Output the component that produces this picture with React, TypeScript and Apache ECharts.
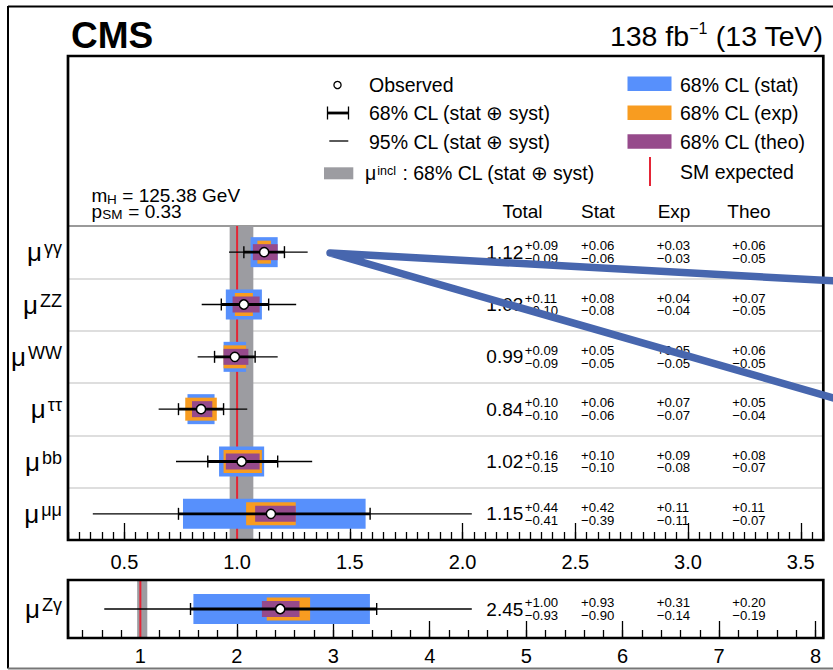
import React, { useEffect, useRef } from 'react';
import * as echarts from 'echarts';

const FONT = "'Liberation Sans', Arial, Helvetica, sans-serif";

// ---------------- data ----------------
const categories = ['γγ', 'ZZ', 'WW', 'ττ', 'bb', 'μμ'];
const bestFit = [1.12, 1.03, 0.99, 0.84, 1.02, 1.15];
const totalUp = [0.09, 0.11, 0.09, 0.1, 0.16, 0.44];
const totalDown = [0.09, 0.1, 0.09, 0.1, 0.15, 0.41];
const statUp = [0.06, 0.08, 0.05, 0.06, 0.1, 0.42];
const statDown = [0.06, 0.08, 0.05, 0.06, 0.1, 0.39];
const expUp = [0.03, 0.04, 0.05, 0.07, 0.09, 0.11];
const expDown = [0.03, 0.04, 0.05, 0.07, 0.08, 0.11];
const theoUp = [0.06, 0.07, 0.06, 0.05, 0.08, 0.11];
const theoDown = [0.05, 0.05, 0.05, 0.04, 0.07, 0.07];
const cl95Low = [0.964, 0.843, 0.825, 0.652, 0.729, 0.36];
const cl95High = [1.313, 1.262, 1.18, 1.045, 1.333, 2.041];

const zgCategories = ['Zγ'];
const zgBestFit = [2.45];
const zgTotalUp = [1.0];
const zgTotalDown = [0.93];
const zgStatUp = [0.93];
const zgStatDown = [0.9];
const zgExpUp = [0.31];
const zgExpDown = [0.14];
const zgTheoUp = [0.2];
const zgTheoDown = [0.19];
const zgCl95Low = [0.626];
const zgCl95High = [4.436];

const inclBand = [0.967, 1.072];
const smValue = [1];
const mainRange = [0.25, 3.6];
const zgRange = [0.25, 8.08];
const tableHeaders = ['Total', 'Stat', 'Exp', 'Theo'];

// ---------------- style ----------------
const BLUE = '#5790fc';
const ORANGE = '#f89c20';
const PURPLE = '#964a8b';
const GRAY = '#9c9ca1';
const RED = '#e42536';

type Rows = {
  best: number[]; tu: number[]; td: number[]; su: number[]; sd: number[];
  eu: number[]; ed: number[]; hu: number[]; hd: number[]; lo95: number[]; hi95: number[];
};

const mainRows: Rows = {
  best: bestFit, tu: totalUp, td: totalDown, su: statUp, sd: statDown,
  eu: expUp, ed: expDown, hu: theoUp, hd: theoDown, lo95: cl95Low, hi95: cl95High,
};
const zgRows: Rows = {
  best: zgBestFit, tu: zgTotalUp, td: zgTotalDown, su: zgStatUp, sd: zgStatDown,
  eu: zgExpUp, ed: zgExpDown, hu: zgTheoUp, hd: zgTheoDown, lo95: zgCl95Low, hi95: zgCl95High,
};

const f2 = (v: number) => v.toFixed(2);
const up = (v: number) => '+' + f2(v);
const dn = (v: number) => '\u2212' + f2(v);

function smallText(x: number, y: number, text: string) {
  return {
    type: 'text', x, y,
    style: { text, fontSize: 13.2, lineHeight: 11, fontFamily: FONT, fill: '#000', align: 'left', verticalAlign: 'middle' },
  };
}

function rowRenderer(rows: Rows) {
  return (params: any, api: any) => {
    const i = params.dataIndex;
    const cat = api.value(1);
    const c = rows.best[i];
    const X = (v: number) => api.coord([v, cat])[0];
    const y = api.coord([c, cat])[1];
    const rect = (lo: number, hi: number, h: number, fill: string) => ({
      type: 'rect',
      shape: { x: X(lo), y: y - h / 2, width: X(hi) - X(lo), height: h },
      style: { fill },
    });
    const capH = 12;
    const xl = X(c - rows.td[i]);
    const xh = X(c + rows.tu[i]);
    return {
      type: 'group',
      children: [
        rect(c - rows.sd[i], c + rows.su[i], 30, BLUE),
        rect(c - rows.ed[i], c + rows.eu[i], 23, ORANGE),
        rect(c - rows.hd[i], c + rows.hu[i], 16, PURPLE),
        { type: 'line', shape: { x1: X(rows.lo95[i]), y1: y, x2: X(rows.hi95[i]), y2: y }, style: { stroke: '#000', lineWidth: 1.4 } },
        { type: 'line', shape: { x1: xl, y1: y, x2: xh, y2: y }, style: { stroke: '#000', lineWidth: 2.8 } },
        { type: 'line', shape: { x1: xl, y1: y - capH / 2, x2: xl, y2: y + capH / 2 }, style: { stroke: '#000', lineWidth: 1.4 } },
        { type: 'line', shape: { x1: xh, y1: y - capH / 2, x2: xh, y2: y + capH / 2 }, style: { stroke: '#000', lineWidth: 1.4 } },
        { type: 'circle', shape: { cx: X(c), cy: y, r: 4.6 }, style: { fill: '#fff', stroke: '#000', lineWidth: 1.5 } },
        // table
        {
          type: 'text', x: 523.3, y,
          style: { text: f2(c), fontSize: 19, lineHeight: 16, fontFamily: FONT, fill: '#000', align: 'right', verticalAlign: 'middle' },
        },
        smallText(524.8, y - 6.2, up(rows.tu[i])),
        smallText(524.8, y + 6.4, dn(rows.td[i])),
        smallText(581, y - 6.2, up(rows.su[i])),
        smallText(581, y + 6.4, dn(rows.sd[i])),
        smallText(656.7, y - 6.2, up(rows.eu[i])),
        smallText(656.7, y + 6.4, dn(rows.ed[i])),
        smallText(732.3, y - 6.2, up(rows.hu[i])),
        smallText(732.3, y + 6.4, dn(rows.hd[i])),
      ],
    };
  };
}

function bandRenderer(params: any, api: any) {
  const cs = params.coordSys;
  const x1 = api.coord([api.value(0), 0])[0];
  const x2 = api.coord([api.value(1), 0])[0];
  return { type: 'rect', shape: { x: x1, y: cs.y, width: x2 - x1, height: cs.height }, style: { fill: GRAY } };
}

function smRenderer(params: any, api: any) {
  const cs = params.coordSys;
  const x = api.coord([api.value(0), 0])[0];
  return { type: 'line', shape: { x1: x, y1: cs.y, x2: x, y2: cs.y + cs.height }, style: { stroke: RED, lineWidth: 2 } };
}

const yLabel = {
  margin: 6,
  formatter: (v: string) => `{mu|μ}{sup|${v}}`,
  rich: {
    mu: { fontSize: 26, fontFamily: FONT, color: '#000', lineHeight: 26 },
    sup: { fontSize: 18, fontFamily: FONT, color: '#000', lineHeight: 18, verticalAlign: 'top', padding: [0, 0, 0, 2] },
  },
};

function xAxes(gridIndex: number, range: number[], major: number, minor: number, fmt: (v: number) => string, margin: number) {
  return [
    {
      type: 'value', gridIndex, min: range[0], max: range[1], minInterval: major, maxInterval: major,
      position: 'bottom',
      axisLine: { show: false, onZero: false },
      axisTick: { show: true, inside: true, length: 17, lineStyle: { color: '#000', width: 1.3 } },
      axisLabel: { show: true, formatter: fmt, showMinLabel: false, showMaxLabel: false, fontSize: 20, fontFamily: FONT, color: '#000', margin },
      splitLine: { show: false },
    },
    {
      type: 'value', gridIndex, min: range[0], max: range[1], minInterval: minor, maxInterval: minor,
      position: 'bottom',
      axisLine: { show: false, onZero: false },
      axisTick: { show: true, inside: true, length: 8, lineStyle: { color: '#000', width: 1.3 } },
      axisLabel: { show: false },
      splitLine: { show: false },
    },
  ];
}

const legendText = (x: number, y: number, text: string, extra: any = {}) => ({
  type: 'text', x, y, z: 50,
  style: { text, fontSize: 19.5, lineHeight: 18, fontFamily: FONT, fill: '#000', align: 'left', verticalAlign: 'middle', ...extra },
});

const option: any = {
  animation: false,
  backgroundColor: '#fff',
  grid: [
    { left: 68, right: 9.7, top: 226, bottom: 130 },
    { left: 68, right: 9.7, top: 580, bottom: 32 },
  ],
  xAxis: [
    ...xAxes(0, mainRange, 0.5, 0.05, (v: number) => v.toFixed(1), 12),
    ...xAxes(1, zgRange, 1, 0.2, (v: number) => String(Math.round(v)), 8),
  ],
  yAxis: [
    {
      type: 'category', gridIndex: 0, data: categories, inverse: true,
      axisLine: { show: false }, axisTick: { show: false },
      axisLabel: yLabel,
      splitLine: { show: true, lineStyle: { color: ['#9a9a9a', '#dedede', '#dedede', '#dedede', '#dedede', '#dedede', '#9a9a9a'], width: 2 } },
    },
    {
      type: 'category', gridIndex: 1, data: zgCategories,
      axisLine: { show: false }, axisTick: { show: false },
      axisLabel: yLabel,
      splitLine: { show: false },
    },
  ],
  series: [
    { type: 'custom', xAxisIndex: 0, yAxisIndex: 0, z: 1, renderItem: bandRenderer, data: [inclBand], silent: true },
    { type: 'custom', xAxisIndex: 0, yAxisIndex: 0, z: 2, renderItem: smRenderer, data: smValue.map((v) => [v]), silent: true },
    {
      type: 'custom', xAxisIndex: 0, yAxisIndex: 0, z: 3, renderItem: rowRenderer(mainRows),
      encode: { x: 0, y: 1 }, data: bestFit.map((v, i) => [v, i]),
    },
    { type: 'custom', xAxisIndex: 2, yAxisIndex: 1, z: 1, renderItem: bandRenderer, data: [inclBand], silent: true },
    { type: 'custom', xAxisIndex: 2, yAxisIndex: 1, z: 2, renderItem: smRenderer, data: smValue.map((v) => [v]), silent: true },
    {
      type: 'custom', xAxisIndex: 2, yAxisIndex: 1, z: 3, renderItem: rowRenderer(zgRows),
      encode: { x: 0, y: 1 }, data: zgBestFit.map((v, i) => [v, i]),
    },
  ],
  graphic: [
    // outer border
    { type: 'line', z: 100, shape: { x1: 8, y1: 6.5, x2: 840, y2: 6.5 }, style: { stroke: '#000', lineWidth: 2 } },
    { type: 'line', z: 100, shape: { x1: 8, y1: 6, x2: 8, y2: 668.5 }, style: { stroke: '#000', lineWidth: 2 } },
    { type: 'line', z: 100, shape: { x1: 8, y1: 668.5, x2: 840, y2: 668.5 }, style: { stroke: '#777', lineWidth: 2 } },
    // frames
    { type: 'rect', z: 100, shape: { x: 68, y: 56, width: 755.3, height: 484 }, style: { fill: null, stroke: '#000', lineWidth: 2.7 } },
    { type: 'rect', z: 100, shape: { x: 68, y: 580, width: 755.3, height: 58 }, style: { fill: null, stroke: '#000', lineWidth: 2.7 } },
    // titles
    {
      type: 'text', x: 71, y: 35, z: 50,
      style: { text: 'CMS', fontSize: 37, fontWeight: 'bold', fontFamily: FONT, fill: '#000', align: 'left', verticalAlign: 'middle' },
    },
    {
      type: 'text', x: 823, y: 35.5, z: 50,
      style: {
        text: '{a|138 fb}{s|\u22121}{a| (13 TeV)}', align: 'right', verticalAlign: 'middle',
        rich: {
          a: { fontSize: 28.5, fontFamily: FONT, fill: '#000', lineHeight: 30 },
          s: { fontSize: 16, fontFamily: FONT, fill: '#000', lineHeight: 14, verticalAlign: 'top' },
        },
      },
    },
    // left legend
    { type: 'circle', z: 50, shape: { cx: 337.5, cy: 85, r: 3.6 }, style: { fill: '#fff', stroke: '#000', lineWidth: 1.3 } },
    legendText(369, 84.5, 'Observed'),
    { type: 'line', z: 50, shape: { x1: 327.5, y1: 113, x2: 348.5, y2: 113 }, style: { stroke: '#000', lineWidth: 2.8 } },
    { type: 'line', z: 50, shape: { x1: 327.5, y1: 106.5, x2: 327.5, y2: 119.5 }, style: { stroke: '#000', lineWidth: 1.3 } },
    { type: 'line', z: 50, shape: { x1: 348.5, y1: 106.5, x2: 348.5, y2: 119.5 }, style: { stroke: '#000', lineWidth: 1.3 } },
    legendText(369, 113, '68% CL (stat \u2295 syst)'),
    { type: 'line', z: 50, shape: { x1: 329.3, y1: 141, x2: 348.3, y2: 141 }, style: { stroke: '#000', lineWidth: 1.3 } },
    legendText(369, 142, '95% CL (stat \u2295 syst)'),
    { type: 'rect', z: 50, shape: { x: 324, y: 167.3, width: 29.3, height: 12 }, style: { fill: GRAY } },
    legendText(365, 173, '', {
      text: '{a|μ}{s|incl}{a| : 68% CL (stat \u2295 syst)}',
      rich: {
        a: { fontSize: 19.5, fontFamily: FONT, fill: '#000', lineHeight: 18 },
        s: { fontSize: 12.5, fontFamily: FONT, fill: '#000', lineHeight: 10, verticalAlign: 'top', padding: [0, 1, 0, 1] },
      },
    }),
    // right legend
    { type: 'rect', z: 50, shape: { x: 627.5, y: 76.5, width: 44, height: 14.5 }, style: { fill: BLUE } },
    legendText(680, 84.5, '68% CL (stat)'),
    { type: 'rect', z: 50, shape: { x: 627.5, y: 105.5, width: 44, height: 14.5 }, style: { fill: ORANGE } },
    legendText(680, 113, '68% CL (exp)'),
    { type: 'rect', z: 50, shape: { x: 627.5, y: 134.3, width: 44, height: 14.5 }, style: { fill: PURPLE } },
    legendText(680, 142, '68% CL (theo)'),
    { type: 'line', z: 50, shape: { x1: 650, y1: 157, x2: 650, y2: 186 }, style: { stroke: RED, lineWidth: 2 } },
    legendText(680, 172, 'SM expected'),
    // m_H, p_SM (subscripts as separate texts)
    legendText(91.5, 195, 'm', { fontSize: 19, lineHeight: 14 }),
    legendText(107, 199.5, 'H', { fontSize: 13.5, lineHeight: 10 }),
    legendText(117, 195, ' = 125.38 GeV', { fontSize: 19, lineHeight: 14 }),
    legendText(91.5, 211, 'p', { fontSize: 19, lineHeight: 14 }),
    legendText(102.3, 214.5, 'SM', { fontSize: 13.5, lineHeight: 10 }),
    legendText(123, 211, ' = 0.33', { fontSize: 19, lineHeight: 14 }),
    // table headers
    ...tableHeaders.map((h, k) => ({
      type: 'text', x: [522.5, 598, 674, 749][k], y: 211.5, z: 50,
      style: { text: h, fontSize: 19, lineHeight: 14, fontFamily: FONT, fill: '#000', align: 'center', verticalAlign: 'middle' },
    })),
    // blue annotation
    {
      type: 'polyline', z: 300,
      shape: { points: [[850, 281.8], [330, 253], [850, 402.7]] },
      style: { stroke: '#4766ae', lineWidth: 7.5, fill: null, lineCap: 'round', lineJoin: 'round' },
    },
  ],
};

export default function App() {
  const ref = useRef<HTMLDivElement>(null);
  useEffect(() => {
    if (!ref.current) return;
    const chart = echarts.init(ref.current, null, { renderer: 'svg', width: 833, height: 670 });
    chart.setOption(option);
    return () => chart.dispose();
  }, []);
  return (
    <div
      ref={ref}
      style={{ position: 'fixed', left: 0, top: 0, width: 833, height: 670, background: '#fff' }}
    />
  );
}
